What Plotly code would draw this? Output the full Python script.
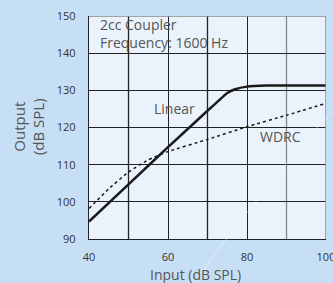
import plotly.graph_objects as go

linear_x = [40, 50, 60, 70, 75, 77, 80, 85, 90, 100]
linear_y = [94.7, 104.7, 114.7, 124.5, 129.3, 130.3, 131.0, 131.3, 131.3, 131.3]
wdrc_x = [40, 45, 50, 55, 60, 70, 80, 90, 100]
wdrc_y = [98.2, 103.5, 108.0, 111.3, 113.5, 116.8, 120.2, 123.3, 126.5]
x_ticks = [40, 60, 80, 100]
y_ticks = [90, 100, 110, 120, 130, 140, 150]

FONT = "Open Sans"
TXT = "#555555"
fig = go.Figure()
fig.add_trace(go.Scatter(x=linear_x, y=linear_y, mode="lines",
                         line=dict(color="#1a1a1a", width=2.5, shape="spline", smoothing=0.2),
                         hoverinfo="skip"))
fig.add_trace(go.Scatter(x=wdrc_x, y=wdrc_y, mode="lines",
                         line=dict(color="#1a1a1a", width=1.5, dash="dot", shape="spline", smoothing=0.5),
                         hoverinfo="skip"))

fig.update_layout(
    width=333, height=283,
    margin=dict(l=89, r=7, t=16, b=44),
    paper_bgcolor="#c6dff5",
    plot_bgcolor="#eaf3fb",
    showlegend=False,
    font=dict(family=FONT, color="#333333", size=11),
    xaxis=dict(range=[40, 100], tickvals=x_ticks, automargin=False,
               showgrid=True, gridcolor="#222222", gridwidth=1.3,
               showline=True, linecolor="#222222", linewidth=1.3,
               zeroline=False, ticks="", ticklabelstandoff=8, ticklabeloverflow="allow",
               tickfont=dict(size=11, color="#333333")),
    yaxis=dict(range=[90, 150], tickvals=y_ticks, automargin=False,
               showgrid=True, gridcolor="#222222", gridwidth=1.3,
               showline=True, linecolor="#222222", linewidth=1.3,
               zeroline=False, ticks="", ticklabelstandoff=10, ticklabeloverflow="allow",
               tickfont=dict(size=11, color="#333333")),
)
for xv, col in [(50, "#222222"), (70, "#222222"), (90, "#888888")]:
    fig.add_shape(type="line", xref="x", yref="y", x0=xv, x1=xv, y0=90, y1=150,
                  line=dict(color=col, width=1.3), layer="below")
fig.add_shape(type="line", xref="x", yref="y", x0=40, x1=100, y0=150, y1=150,
              line=dict(color="#888888", width=1.5))
fig.add_shape(type="line", xref="x", yref="y", x0=100, x1=100, y0=90, y1=150,
              line=dict(color="#888888", width=1.5))
fig.add_shape(type="path", xref="paper", yref="paper",
              path="M 0.439 -0.197 Q 0.85 0.38 1.031 0.578",
              line=dict(color="rgba(255,255,255,0.45)", width=1), layer="above")

# axis titles
fig.add_annotation(x=-0.297, y=0.502, xref="paper", yref="paper", text="Output", textangle=-90,
                   showarrow=False, xanchor="center", yanchor="middle",
                   font=dict(size=15, color=TXT, family=FONT))
fig.add_annotation(x=-0.215, y=0.502, xref="paper", yref="paper", text="(dB SPL)", textangle=-90,
                   showarrow=False, xanchor="center", yanchor="middle",
                   font=dict(size=15, color=TXT, family=FONT))
fig.add_annotation(x=0.451, y=-0.158, xref="paper", yref="paper", text="Input (dB SPL)",
                   showarrow=False, xanchor="center", yanchor="middle",
                   font=dict(size=14, color=TXT, family=FONT))

# in-plot labels
fig.add_annotation(x=0.036, y=1.015, xref="paper", yref="paper", xanchor="left", yanchor="top",
                   text="2cc Coupler<br>Frequency: 1600 Hz", showarrow=False, align="left",
                   font=dict(size=14, color=TXT, family=FONT))
fig.add_annotation(x=61.7, y=125.0, xref="x", yref="y", xanchor="center", yanchor="middle",
                   text="Linear", showarrow=False, font=dict(size=14, color=TXT, family=FONT))
fig.add_annotation(x=88.5, y=117.5, xref="x", yref="y", xanchor="center", yanchor="middle",
                   text="WDRC", showarrow=False, font=dict(size=14, color=TXT, family=FONT))

fig.write_html("out.html", config={"displayModeBar": False},
               post_script="document.body.style.margin='0';document.body.style.background='#c6dff5';")
